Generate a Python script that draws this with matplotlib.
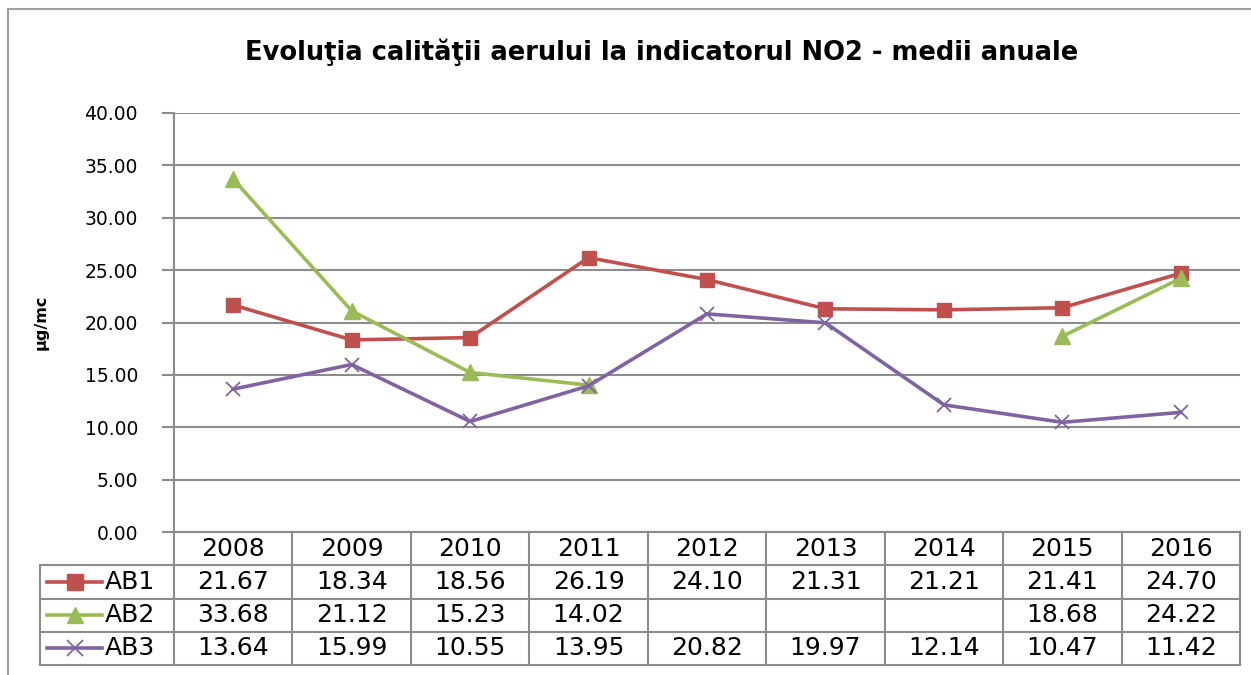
import numpy as np
import matplotlib.pyplot as plt
from matplotlib.patches import Rectangle

years = ['2008', '2009', '2010', '2011', '2012', '2013', '2014', '2015', '2016']
ab1 = [21.67, 18.34, 18.56, 26.19, 24.10, 21.31, 21.21, 21.41, 24.70]
ab2 = [33.68, 21.12, 15.23, 14.02, np.nan, np.nan, np.nan, 18.68, 24.22]
ab3 = [13.64, 15.99, 10.55, 13.95, 20.82, 19.97, 12.14, 10.47, 11.42]

series = [
    ('AB1', ab1, '#C0504D', 's', 10),
    ('AB2', ab2, '#9BBB59', '^', 11),
    ('AB3', ab3, '#8064A2', 'x', 10),
]

plt.rcParams['font.family'] = ['DejaVu Sans']
GRAY = '#8c8c8c'
W, H = 1251, 675

fig = plt.figure(figsize=(W / 100, H / 100), dpi=100)

# outer chart frame (cut off on right and bottom like the screenshot)
fig.patches.append(Rectangle((8 / W, -0.05), 1.1, (H - 9) / H + 0.05,
                             transform=fig.transFigure, fill=False,
                             edgecolor='#a0a0a0', linewidth=1.5))

# main plot area
ax = fig.add_axes([174 / W, (H - 532) / H, (1240 - 174) / W, (532 - 113) / H])
x = np.arange(len(years))
for name, vals, col, mk, ms in series:
    ax.plot(x, vals, color=col, linewidth=2.6, marker=mk, markersize=ms,
            markeredgewidth=1.3 if mk == 'x' else 1.0, markeredgecolor=col,
            markerfacecolor=col)

ax.set_xlim(-0.5, len(years) - 0.5)
ax.set_ylim(0, 40)
ax.set_yticks(np.arange(0, 41, 5))
ax.set_yticklabels([f'{v:.2f}' for v in np.arange(0, 41, 5)], fontsize=13.5)
ax.set_xticks([])
ax.tick_params(axis='y', length=9, width=1.5, color=GRAY, pad=17)
ax.yaxis.grid(True, color=GRAY, linewidth=1.5)
ax.set_axisbelow(True)
for s in ['top', 'right']:
    ax.spines[s].set_visible(False)
for s in ['left', 'bottom']:
    ax.spines[s].set_color(GRAY)
    ax.spines[s].set_linewidth(1.5)

ax.set_ylabel('µg/mc', fontsize=11.5, fontweight='bold', labelpad=26)

fig.text(662 / W, 1 - 52 / H,
         'Evoluţia calităţii aerului la indicatorul NO2 - medii anuale',
         ha='center', va='center', fontsize=18.5, fontweight='bold')

# data table under the plot, sharing the category positions
col_w = (1240 - 174) / len(years)
leg_left = -0.5 - (174 - 40) / col_w
tab = fig.add_axes([174 / W, (H - 665) / H, (1240 - 174) / W, (665 - 532) / H])
tab.set_xlim(-0.5, len(years) - 0.5)
tab.set_ylim(4, 0)
tab.axis('off')

lkw = dict(color=GRAY, linewidth=1.5, clip_on=False)
# horizontal rules
tab.plot([-0.5, len(years) - 0.5], [0, 0], **lkw)
for r in range(1, 5):
    tab.plot([leg_left, len(years) - 0.5], [r, r], **lkw)
# vertical rules
for c in range(len(years) + 1):
    tab.plot([c - 0.5, c - 0.5], [0, 4], **lkw)
tab.plot([leg_left, leg_left], [1, 4], **lkw)

FS = 18
for i, yr in enumerate(years):
    tab.text(i, 0.5, yr, ha='center', va='center', fontsize=FS)

for r, (name, vals, col, mk, ms) in enumerate(series, start=1):
    for i, v in enumerate(vals):
        if not np.isnan(v):
            tab.text(i, r + 0.5, f'{v:.2f}', ha='center', va='center', fontsize=FS)
    # legend key: short line with marker
    x0 = leg_left + 7 / col_w
    x1 = leg_left + 62 / col_w
    tab.plot([x0, x1], [r + 0.5, r + 0.5], color=col, linewidth=2.6, clip_on=False)
    tab.plot([(x0 + x1) / 2], [r + 0.5], marker=mk, markersize=ms + 1, color=col,
             markeredgewidth=1.3 if mk == 'x' else 1.0, clip_on=False)
    tab.text(leg_left + 65 / col_w, r + 0.5, name, ha='left', va='center', fontsize=FS)

fig.savefig('out.png', dpi=100)
